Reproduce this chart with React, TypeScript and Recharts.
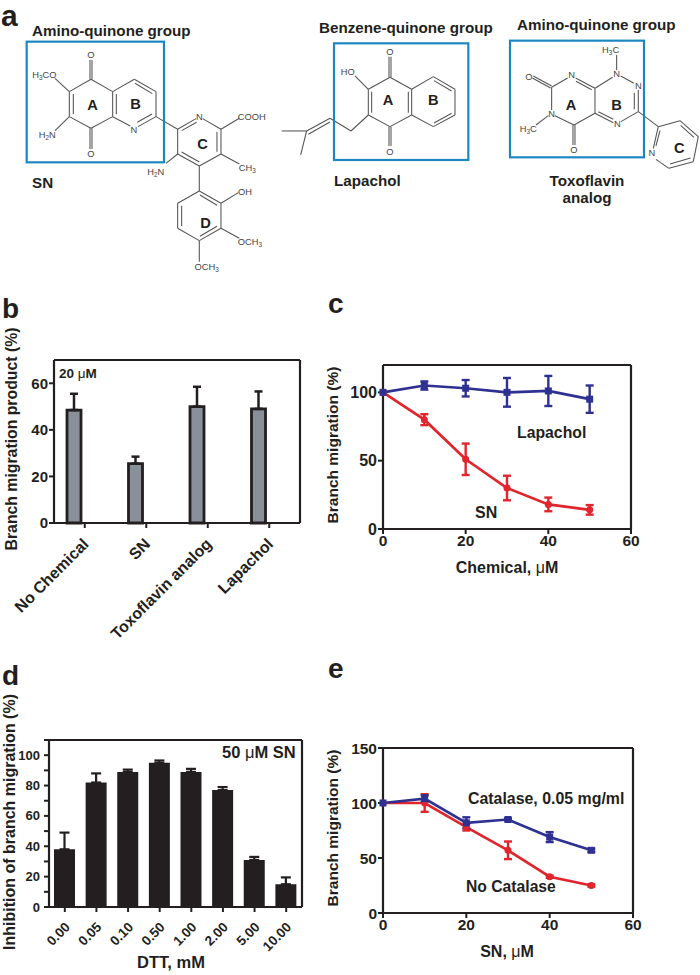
import { BarChart, Bar, LineChart, Line, XAxis, YAxis, ErrorBar } from 'recharts';

const FONT = '"Liberation Sans", Arial, sans-serif';
const INK = '#231f20';
const BLUE = '#2e3192';
const RED = '#e0252d';
const BOX = '#1b87c0';

// panel b
const chemicals = ['No Chemical', 'SN', 'Toxoflavin analog', 'Lapachol'];
const productPct = [48.5, 25.5, 50, 49];
const productErr = [7, 3, 8.5, 7.5];

// panel c
const doseC = [0, 10, 20, 30, 40, 50];
const lapachol = [100, 105, 103, 100, 101, 95];
const lapacholErr = [0, 3, 6, 10.5, 11, 10];
const snC = [100, 80, 51, 30, 18, 14];
const snCErr = [0, 4, 11.5, 9, 5, 3.5];

// panel d
const dttLabels = ['0.00', '0.05', '0.10', '0.50', '1.00', '2.00', '5.00', '10.00'];
const inhibition = [38, 82, 89, 95, 89, 77, 31, 15];
const inhibitionErr = [11, 6, 1.5, 1.5, 2, 2, 2, 4.5];
const dTicks = [0, 10, 20, 30, 40, 50, 60, 70, 80, 90, 100, 110];

// panel e
const doseE = [0, 10, 20, 30, 40, 50];
const catalase = [100, 104, 82, 85, 69, 57];
const catalaseErr = [0, 3, 5, 1, 4.5, 1.5];
const noCatalase = [100, 100, 78, 57, 33, 25];
const noCatalaseErr = [0, 8, 3, 8, 1, 1];

const dataB = chemicals.map((name, i) => ({ name, value: productPct[i], err: [0, productErr[i]] }));
const dataC = doseC.map((x, i) => ({ x, lap: lapachol[i], lapErr: lapacholErr[i], sn: snC[i], snErr: snCErr[i] }));
const dataD = dttLabels.map((name, i) => ({ name, value: inhibition[i], err: [0, inhibitionErr[i]] }));
const dataE = doseE.map((x, i) => ({ x, cat: catalase[i], catErr: catalaseErr[i], no: noCatalase[i], noErr: noCatalaseErr[i] }));

const axisLine = { stroke: INK, strokeWidth: 2.2 };
const tickLine = { stroke: INK, strokeWidth: 2 };
const tickFont = (fontSize: number) => ({ fontFamily: FONT, fontWeight: 700, fontSize, fill: INK });

function squareDot(color: string) {
  return (p: any) => <rect key={p.index} x={p.cx - 3.5} y={p.cy - 3.5} width={7} height={7} fill={color} />;
}

function roundDot(color: string) {
  return (p: any) => <circle key={p.index} cx={p.cx} cy={p.cy} r={3.5} fill={color} />;
}

function slantedTick(fontSize: number, dx: number, dy: number) {
  return (p: any) => (
    <text
      x={p.x + dx}
      y={p.y + dy}
      textAnchor="end"
      transform={`rotate(-45 ${p.x + dx} ${p.y + dy})`}
      style={tickFont(fontSize)}
    >
      {p.payload.value}
    </text>
  );
}

function minorTick(p: any) {
  const v = p.payload.value;
  if (v % 20 !== 0 || v > 100) return <g />;
  return (
    <text x={p.x - 2} y={p.y + 4.5} textAnchor="end" style={tickFont(13)}>
      {v}
    </text>
  );
}

function Title({ x, y, size = 16, anchor = 'start', rotate, children }: any) {
  return (
    <text
      x={x}
      y={y}
      textAnchor={anchor}
      transform={rotate ? `rotate(${rotate} ${x} ${y})` : undefined}
      style={{ fontFamily: FONT, fontWeight: 700, fontSize: size, fill: INK }}
    >
      {children}
    </text>
  );
}

const Mu = () => <tspan fontWeight={400}>μ</tspan>;

// structure drawings, in 3x units as [x1, y1, x2, y2]
const snBonds = [
  [273, 238, 338, 275], [338, 275, 338, 350], [338, 350, 273, 385], [273, 385, 208, 350], [208, 350, 208, 275], [208, 275, 273, 238],
  [220, 282, 220, 343], [349, 282, 349, 343],
  [338, 275, 403, 238], [403, 238, 468, 275], [468, 275, 468, 350], [468, 350, 414, 380], [391, 378, 338, 350],
  [405, 250, 457, 281], [456, 342, 412, 367],
  [468, 350, 533, 388], [533, 388, 588, 356], [608, 356, 663, 388], [663, 388, 663, 462], [663, 462, 598, 498], [598, 498, 533, 462], [533, 462, 533, 388],
  [545, 392, 590, 367], [651, 395, 651, 455], [545, 456, 598, 486],
  [598, 498, 598, 573], [598, 573, 663, 610], [663, 610, 663, 685], [663, 685, 598, 722], [598, 722, 533, 685], [533, 685, 533, 610], [533, 610, 598, 573],
  [600, 585, 651, 616], [651, 679, 600, 709], [545, 617, 545, 678],
  [270, 238, 270, 180], [276, 238, 276, 180], [270, 385, 270, 447], [276, 385, 276, 447],
  [208, 275, 165, 235], [208, 350, 165, 392], [663, 388, 718, 355], [663, 462, 718, 492], [533, 462, 498, 490],
  [663, 610, 715, 578], [663, 685, 718, 715], [598, 722, 598, 785],
];
const lapacholBonds = [
  [35, 393, 110, 393], [110, 393, 92, 465], [110, 393, 180, 355], [115, 403, 180, 366], [180, 355, 243, 393], [243, 393, 295, 345],
  [360, 232, 425, 268], [425, 268, 425, 345], [425, 345, 360, 380], [360, 380, 295, 345], [295, 345, 295, 268], [295, 268, 360, 232],
  [305, 275, 305, 338], [415, 275, 415, 338],
  [425, 268, 490, 230], [490, 230, 555, 268], [555, 268, 555, 345], [555, 345, 490, 380], [490, 380, 425, 345],
  [492, 242, 545, 273], [545, 340, 492, 369],
  [357, 232, 357, 170], [363, 232, 363, 170], [357, 380, 357, 438], [363, 380, 363, 438], [295, 268, 255, 228],
];
const toxoBonds = [
  [845, 262, 893, 234], [917, 234, 975, 265], [918, 244, 965, 269], [975, 265, 975, 340], [975, 265, 1028, 232], [975, 340, 1030, 368], [985, 335, 1030, 358],
  [1053, 365, 1105, 335], [1105, 335, 1105, 270], [1093, 328, 1093, 278], [1092, 250, 1052, 228], [845, 262, 845, 330], [855, 347, 912, 375], [912, 375, 975, 340],
  [845, 258, 790, 228], [842, 264, 787, 234], [909, 375, 909, 435], [915, 375, 915, 435], [1040, 165, 1040, 210], [835, 347, 798, 375],
  [1105, 335, 1165, 380], [1165, 380, 1230, 362], [1230, 362, 1285, 410], [1285, 410, 1270, 485], [1270, 485, 1197, 505], [1197, 505, 1158, 478], [1165, 380, 1150, 445],
  [1232, 376, 1272, 412], [1262, 474, 1200, 492], [1170, 392, 1158, 438],
];

function Bonds({ list }: { list: number[][] }) {
  return (
    <g stroke="#555" strokeWidth={3.2}>
      {list.map((b, i) => (
        <line key={i} x1={b[0]} y1={b[1]} x2={b[2]} y2={b[3]} />
      ))}
    </g>
  );
}

function Atom({ x, y, parts, anchor = 'middle' }: any) {
  // parts alternate normal text and subscript digits
  return (
    <text x={x} y={y + 10} textAnchor={anchor} style={{ fontFamily: FONT, fontSize: 28, fill: '#444' }}>
      {parts.map((t: string, i: number) =>
        /^\d$/.test(t) ? (
          <tspan key={i} fontSize={19} dy={6}>{t}</tspan>
        ) : (
          <tspan key={i} dy={i > 0 && /^\d$/.test(parts[i - 1]) ? -6 : 0}>{t}</tspan>
        )
      )}
    </text>
  );
}

function Ring({ x, y, t }: any) {
  return (
    <text x={x} y={y + 17} textAnchor="middle" style={{ fontFamily: FONT, fontWeight: 700, fontSize: 44, fill: INK }}>
      {t}
    </text>
  );
}

function Structures() {
  return (
    <svg width={700} height={290} style={{ position: 'absolute', left: 0, top: 0 }}>
      <g transform="scale(0.3333)">
        <Bonds list={snBonds} />
        <rect x={80} y={125} width={412} height={362} fill="none" stroke={BOX} strokeWidth={6.5} />
        <Atom x={273} y={165} parts={['O']} />
        <Atom x={273} y={462} parts={['O']} />
        <Atom x={133} y={224} parts={['H', '3', 'CO']} />
        <Atom x={142} y={404} parts={['H', '2', 'N']} />
        <Atom x={402} y={389} parts={['N']} />
        <Atom x={598} y={351} parts={['N']} />
        <Atom x={755} y={351} parts={['COOH']} />
        <Atom x={742} y={503} parts={['CH', '3']} />
        <Atom x={467} y={516} parts={['H', '2', 'N']} />
        <Atom x={735} y={574} parts={['OH']} />
        <Atom x={750} y={726} parts={['OCH', '3']} />
        <Atom x={620} y={800} parts={['OCH', '3']} />
        <Ring x={278} y={313} t="A" />
        <Ring x={407} y={311} t="B" />
        <Ring x={608} y={430} t="C" />
        <Ring x={617} y={667} t="D" />
      </g>
      <g transform="translate(270 0) scale(0.3333)">
        <Bonds list={lapacholBonds} />
        <rect x={192} y={130} width={403} height={350} fill="none" stroke={BOX} strokeWidth={6.5} />
        <Atom x={360} y={155} parts={['O']} />
        <Atom x={360} y={455} parts={['O']} />
        <Atom x={233} y={215} parts={['HO']} />
        <Ring x={354} y={298} t="A" />
        <Ring x={490} y={298} t="B" />
        <Bonds list={toxoBonds} />
        <rect x={720} y={122} width={402} height={350} fill="none" stroke={BOX} strokeWidth={6.5} />
        <Atom x={1022} y={148} parts={['H', '3', 'C']} />
        <Atom x={1040} y={222} parts={['N']} />
        <Atom x={905} y={225} parts={['N']} />
        <Atom x={1105} y={258} parts={['N']} />
        <Atom x={1042} y={372} parts={['N']} />
        <Atom x={845} y={340} parts={['N']} />
        <Atom x={1146} y={458} parts={['N']} />
        <Atom x={777} y={231} parts={['O']} />
        <Atom x={912} y={450} parts={['O']} />
        <Atom x={775} y={385} parts={['H', '3', 'C']} />
        <Ring x={903} y={313} t="A" />
        <Ring x={1040} y={312} t="B" />
        <Ring x={1228} y={441} t="C" />
      </g>
    </svg>
  );
}

// top and right edges of the plot box; axes of size 0 are not drawn, hence 1
function frame() {
  return [
    <XAxis key="ft" xAxisId="frame" orientation="top" height={1} tick={false} tickLine={false} axisLine={axisLine} />,
    <YAxis key="fr" yAxisId="frame" orientation="right" width={1} tick={false} tickLine={false} axisLine={axisLine} />,
  ];
}

export default function App() {
  return (
    <div style={{ position: 'absolute', left: 0, top: 0, width: 700, height: 975, background: '#fff', overflow: 'hidden' }}>
      <Structures />

      {/* b */}
      <div style={{ position: 'absolute', left: 0, top: 350 }}>
        <BarChart width={310} height={295} data={dataB} margin={{ top: 9, right: 9, bottom: 0, left: 0 }} barSize={14} barGap={8} barCategoryGap={0}>
          {frame()}
          <XAxis dataKey="name" interval={0} height={122} axisLine={axisLine} tickLine={tickLine} tickSize={5} tick={slantedTick(16, 5, 15)} />
          <YAxis width={54} domain={[0, 70]} ticks={[0, 20, 40, 60]} axisLine={axisLine} tickLine={tickLine} tickSize={5} tickMargin={1} tick={tickFont(15)} />
          <Bar dataKey="value" fill="#8a9099" stroke={INK} strokeWidth={2.8} isAnimationActive={false}>
            <ErrorBar dataKey="err" direction="y" width={4} stroke={INK} strokeWidth={2.5} isAnimationActive={false} />
          </Bar>
          <Bar dataKey="spacer" fill="none" isAnimationActive={false} />
        </BarChart>
      </div>

      {/* c */}
      <div style={{ position: 'absolute', left: 320, top: 355 }}>
        <LineChart width={321} height={204} data={dataC} margin={{ top: 9, right: 9, bottom: 0, left: 0 }}>
          {frame()}
          <XAxis dataKey="x" type="number" domain={[0, 60]} ticks={[0, 20, 40, 60]} height={30} axisLine={axisLine} tickLine={tickLine} tickSize={5} tickMargin={1} tick={tickFont(15.5)} />
          <YAxis width={63} domain={[0, 120]} ticks={[0, 50, 100]} axisLine={axisLine} tickLine={tickLine} tickSize={5} tickMargin={1} tick={tickFont(16)} />
          <Line dataKey="sn" stroke={RED} strokeWidth={2.7} dot={roundDot(RED)} isAnimationActive={false}>
            <ErrorBar dataKey="snErr" direction="y" width={4} stroke={RED} strokeWidth={2.4} isAnimationActive={false} />
          </Line>
          <Line dataKey="lap" stroke={BLUE} strokeWidth={2.7} dot={squareDot(BLUE)} isAnimationActive={false}>
            <ErrorBar dataKey="lapErr" direction="y" width={4} stroke={BLUE} strokeWidth={2.4} isAnimationActive={false} />
          </Line>
        </LineChart>
      </div>

      {/* d */}
      <div style={{ position: 'absolute', left: 0, top: 730 }}>
        <BarChart width={312} height={237} data={dataD} margin={{ top: 9, right: 9, bottom: 0, left: 0 }} barSize={21} barCategoryGap={0}>
          {frame()}
          <XAxis dataKey="name" interval={0} height={60} axisLine={axisLine} tickLine={tickLine} tickSize={5} tick={slantedTick(13.5, 6, 14)} />
          <YAxis width={49} domain={[0, 110]} ticks={dTicks} interval={0} axisLine={axisLine} tickLine={tickLine} tickSize={5} tick={minorTick} />
          <Bar dataKey="value" fill={INK} isAnimationActive={false}>
            <ErrorBar dataKey="err" direction="y" width={5} stroke={INK} strokeWidth={2.2} isAnimationActive={false} />
          </Bar>
        </BarChart>
      </div>

      {/* e */}
      <div style={{ position: 'absolute', left: 320, top: 738 }}>
        <LineChart width={323} height={205} data={dataE} margin={{ top: 9, right: 9, bottom: 0, left: 0 }}>
          {frame()}
          <XAxis dataKey="x" type="number" domain={[0, 60]} ticks={[0, 20, 40, 60]} height={30} axisLine={axisLine} tickLine={tickLine} tickSize={5} tickMargin={1} tick={tickFont(15.5)} />
          <YAxis width={63} domain={[0, 150]} ticks={[0, 50, 100, 150]} axisLine={axisLine} tickLine={tickLine} tickSize={5} tickMargin={1} tick={tickFont(15.5)} />
          <Line dataKey="no" stroke={RED} strokeWidth={2.7} dot={roundDot(RED)} isAnimationActive={false}>
            <ErrorBar dataKey="noErr" direction="y" width={4} stroke={RED} strokeWidth={2.4} isAnimationActive={false} />
          </Line>
          <Line dataKey="cat" stroke={BLUE} strokeWidth={2.7} dot={squareDot(BLUE)} isAnimationActive={false}>
            <ErrorBar dataKey="catErr" direction="y" width={4} stroke={BLUE} strokeWidth={2.4} isAnimationActive={false} />
          </Line>
        </LineChart>
      </div>

      {/* text over the panels */}
      <svg width={700} height={975} style={{ position: 'absolute', left: 0, top: 0, pointerEvents: 'none' }}>
        <Title x={1} y={26} size={30}>a</Title>
        <Title x={2} y={318} size={28}>b</Title>
        <Title x={328} y={313} size={28}>c</Title>
        <Title x={2} y={685} size={28}>d</Title>
        <Title x={328} y={678} size={28}>e</Title>

        <Title x={32} y={36} size={15.2}>Amino-quinone group</Title>
        <Title x={32} y={188} size={15.2}>SN</Title>
        <Title x={319} y={33} size={15.2}>Benzene-quinone group</Title>
        <Title x={334} y={186} size={15.2}>Lapachol</Title>
        <Title x={517} y={30} size={15.2}>Amino-quinone group</Title>
        <Title x={587} y={186} size={15.2} anchor="middle">Toxoflavin</Title>
        <Title x={587} y={203} size={15.2} anchor="middle">analog</Title>

        <Title x={17} y={439} size={15.8} anchor="middle" rotate={-90}>Branch migration product (%)</Title>
        <Title x={59} y={378} size={13.5}>20 <Mu />M</Title>

        <Title x={338} y={445} size={15.5} anchor="middle" rotate={-90}>Branch migration (%)</Title>
        <Title x={517} y={438} size={15.8}>Lapachol</Title>
        <Title x={475} y={518} size={16}>SN</Title>
        <Title x={507} y={573} size={16} anchor="middle">Chemical, <Mu />M</Title>

        <Title x={15} y={822} size={16} anchor="middle" rotate={-90}>Inhibition of branch migration (%)</Title>
        <Title x={222} y={758} size={16.5}>50 <Mu />M SN</Title>
        <Title x={171} y={968} size={16.5} anchor="middle">DTT, mM</Title>

        <Title x={338} y={828} size={15.5} anchor="middle" rotate={-90}>Branch migration (%)</Title>
        <Title x={468} y={804} size={15.9}>Catalase, 0.05 mg/ml</Title>
        <Title x={466} y={892} size={15.7}>No Catalase</Title>
        <Title x={507} y={957} size={16} anchor="middle">SN, <Mu />M</Title>
      </svg>
    </div>
  );
}
